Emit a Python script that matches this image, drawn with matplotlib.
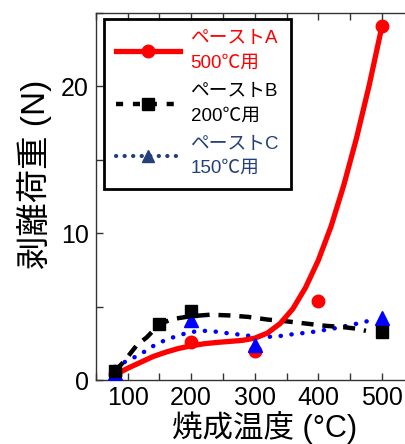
import matplotlib
matplotlib.use("Agg")
import matplotlib.pyplot as plt
from matplotlib.lines import Line2D
from matplotlib.ticker import MultipleLocator

plt.rcParams["font.family"] = ["Liberation Sans", "Noto Sans CJK JP", "DejaVu Sans"]

# measured points
temp_a = [80, 200, 300, 400, 500]
load_a = [0.4, 2.6, 2.0, 5.4, 24.1]
temp_b = [80, 150, 200, 500]
load_b = [0.6, 3.85, 4.7, 3.3]
temp_c = [80, 200, 300, 500]
load_c = [0.5, 4.1, 2.4, 4.2]

# trend curves
trend_a_x = [80, 100, 120, 140, 160, 180, 200, 220, 240, 260, 280, 300, 320,
             340, 360, 380, 400, 420, 440, 460, 480, 500]
trend_a_y = [0.35, 0.8, 1.2, 1.6, 1.9, 2.15, 2.33, 2.47, 2.56, 2.63, 2.7,
             2.85, 3.2, 3.85, 4.85, 6.3, 8.15, 10.45, 13.25, 16.45, 20.05, 24.05]
trend_b_x = [80, 95, 115, 130, 150, 170, 200, 230, 260, 290, 320, 350, 380,
             410, 440, 460, 475]
trend_b_y = [0.6, 1.3, 2.4, 2.9, 3.8, 4.15, 4.35, 4.45, 4.4, 4.3, 4.12, 4.0,
             3.85, 3.7, 3.6, 3.5, 3.35]
trend_c_x = [80, 113, 128, 144, 162, 178, 194, 210, 228, 243, 259, 275, 290,
             310, 325, 340, 356, 372, 387, 403, 419, 434, 450, 468, 484]
trend_c_y = [0.9, 1.6, 1.97, 2.42, 2.77, 3.0, 3.22, 3.33, 3.36, 3.27, 3.18,
             3.1, 3.02, 2.95, 2.95, 3.0, 3.1, 3.18, 3.25, 3.36, 3.47, 3.59,
             3.75, 3.9, 4.09]

labels = ["ペーストA\n500℃用", "ペーストB\n200℃用", "ペーストC\n150℃用"]
RED, BLACK, BLUE, NAVY = "#ff0000", "#000000", "#0000ff", "#24407a"

fig = plt.figure(figsize=(4.06, 4.44), dpi=100)
ax = fig.add_axes([0.236, 0.144, 0.764, 0.827])

ax.plot(trend_c_x, trend_c_y, color=BLUE, lw=3.2, ls=(0, (0.05, 2.4)),
        dash_capstyle="round", zorder=2)
ax.plot(trend_b_x, trend_b_y, color=BLACK, lw=3.2, ls=(0, (2.7, 2.0)), zorder=3)
ax.plot(trend_a_x, trend_a_y, color=RED, lw=3.8, zorder=4)

ax.plot(temp_a, load_a, "o", color=RED, ms=9, ls="none", zorder=5)
ax.plot(temp_c, load_c, "^", color=BLUE, ms=10, ls="none", zorder=6)
ax.plot(temp_b, load_b, "s", color=BLACK, ms=8, ls="none", zorder=7)

ax.set_xlim(50, 538)
ax.set_ylim(0, 25)
ax.xaxis.set_major_locator(MultipleLocator(100))
ax.xaxis.set_minor_locator(MultipleLocator(50))
ax.yaxis.set_major_locator(MultipleLocator(10))
ax.yaxis.set_minor_locator(MultipleLocator(5))
ax.tick_params(which="both", direction="in", top=True, length=5, width=1,
               color="#333333", labelsize=18, pad=5)
ax.tick_params(axis="x", pad=4)
for side in ("left", "bottom", "top"):
    ax.spines[side].set_color("#333333")
    ax.spines[side].set_linewidth(1.0)
ax.spines["right"].set_visible(False)

ax.set_xlabel("焼成温度 (°C)", fontsize=22)
ax.set_ylabel("剥離荷重 (N)", fontsize=24)
ax.xaxis.set_label_coords(0.545, -0.083)
ax.yaxis.set_label_coords(-0.14, 0.56)

handles = [
    Line2D([], [], color=RED, lw=3.8, marker="o", ms=9),
    Line2D([], [], color=BLACK, lw=3.2, ls=(0, (1.6, 2.2)), marker="s", ms=8),
    Line2D([], [], color=NAVY, lw=3.0, ls=(0, (0.05, 2.0)),
           dash_capstyle="round", marker="^", ms=9),
]
leg = ax.legend(handles, labels, loc="upper left", bbox_to_anchor=(0.026, 0.984),
                borderaxespad=0, fontsize=13.5, handlelength=3.45, handletextpad=0.55,
                labelspacing=0.62, borderpad=0.62, fancybox=False, framealpha=1,
                edgecolor="black")
leg.get_frame().set_linewidth(2)
for txt, c in zip(leg.get_texts(), [RED, BLACK, NAVY]):
    txt.set_color(c)
    txt.set_linespacing(1.55)

fig.savefig("out.png", dpi=100)
